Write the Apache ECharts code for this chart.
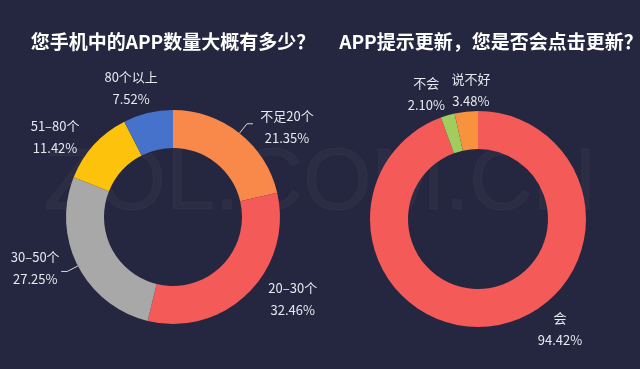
<!DOCTYPE html>
<html>
<head>
<meta charset="utf-8">
<script src="https://cdn.jsdelivr.net/npm/echarts@6/dist/echarts.min.js"></script>
<style>
html,body{margin:0;padding:0;background:#25263f;}
#c{width:640px;height:369px;}
</style>
</head>
<body>
<div id="c"></div>
<script>
// ---- data ----
var titleLeft = '您手机中的APP数量大概有多少？';
var titleRight = 'APP提示更新，您是否会点击更新？';
var countNames = ['不足20个', '20–30个', '30–50个', '51–80个', '80个以上'];
var countValues = [21.35, 32.46, 27.25, 11.42, 7.52];
var updateNames = ['会', '不会', '说不好'];
var updateValues = [94.42, 2.10, 3.48];

// ---- styles ----
var countColors = ['#f8894a', '#f35a58', '#a8a8a8', '#fcc20c', '#4672cc'];
var updateColors = ['#f35a58', '#a3cc5e', '#f7923e'];
var countLines = [true, false, true, false, false];
var updateLines = [false, false, false];
// label nudges (pixels) per slice
var countNudge = [[0, 3], [-4, -3], [8, -3], [10, 0], [26, -13]];
var updateNudge = [[21, -8], [22, -10], [46, -10]];

function build(names, values, colors, lines) {
  return names.map(function (n, i) {
    return {
      name: n, value: values[i],
      itemStyle: { color: colors[i] },
      labelLine: { show: lines[i] }
    };
  });
}

function nudger(table) {
  return function (p) {
    var d = table[p.dataIndex] || [0, 0];
    return { dx: d[0], dy: d[1], hideOverlap: false, moveOverlap: false };
  };
}

var labelStyle = {
  show: true,
  position: 'outside',
  formatter: function (p) { return '{a|' + p.name + '}\n{a|' + p.value.toFixed(2) + '%}'; },
  rich: { a: { color: '#e8e8f0', fontSize: 13, lineHeight: 22, width: 58, align: 'center', fontFamily: 'Noto Sans CJK SC' } }
};

var chart = echarts.init(document.getElementById('c'));
chart.setOption({
  backgroundColor: '#25263f',
  graphic: [{
    type: 'text', left: 'center', top: 140, silent: true, z: -1,
    style: { text: 'ZOL.COM.CN', font: '88px Liberation Sans', fill: 'rgba(255,255,255,0.035)', stroke: 'rgba(255,255,255,0.03)', lineWidth: 1 }
  }],
  title: [
    { text: titleLeft, left: 168, top: 27, textAlign: 'center',
      textStyle: { color: '#ffffff', fontSize: 19, fontWeight: 'bold', fontFamily: 'Noto Sans CJK SC' } },
    { text: titleRight, left: 486, top: 27, textAlign: 'center',
      textStyle: { color: '#ffffff', fontSize: 19, fontWeight: 'bold', fontFamily: 'Noto Sans CJK SC' } }
  ],
  series: [
    {
      type: 'pie', center: [173, 217], radius: [69, 107], startAngle: 90, clockwise: true,
      silent: true, avoidLabelOverlap: false,
      label: labelStyle,
      labelLine: { length: 12, length2: 6, lineStyle: { color: '#d8d8e0', width: 1 } },
      labelLayout: nudger(countNudge),
      itemStyle: { borderWidth: 0 },
      data: build(countNames, countValues, countColors, countLines)
    },
    {
      type: 'pie', center: [478, 219], radius: [70, 108], startAngle: 90, clockwise: true,
      silent: true, avoidLabelOverlap: false,
      label: labelStyle,
      labelLine: { length: 12, length2: 6, lineStyle: { color: '#d8d8e0', width: 1 } },
      labelLayout: nudger(updateNudge),
      itemStyle: { borderWidth: 0 },
      data: build(updateNames, updateValues, updateColors, updateLines)
    }
  ]
});
</script>
</body>
</html>
